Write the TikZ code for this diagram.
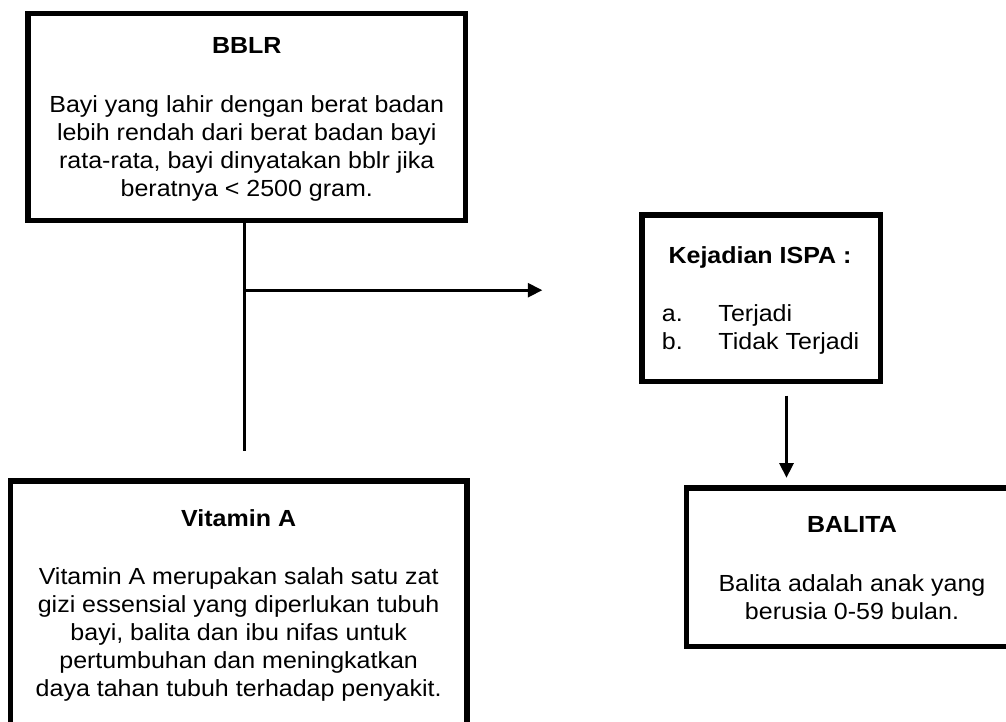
\documentclass[tikz,border=0pt]{standalone}
\usepackage{fontspec}
\setmainfont{Liberation Sans}[FakeStretch=1.073]
\usetikzlibrary{arrows.meta}
\tikzset{
  box/.style={draw, line width=5.5pt, fill=white, inner sep=0pt, rectangle},
  txt/.style={font=\fontsize{23.3}{28}\selectfont, inner sep=0pt, align=center, anchor=base},
  ttl/.style={txt, font=\fontsize{23.3}{28}\selectfont\bfseries},
  conn/.style={line width=2.7pt},
  arr/.style={conn, -{Triangle[length=14.5pt,width=14pt]}},
}
\begin{document}
\begin{tikzpicture}[x=1pt,y=-1pt]
\useasboundingbox (0,0) rectangle (1006,721);
\clip (0,0) rectangle (1006,721);
\fill[white] (0,0) rectangle (1006,721);

% BBLR
\node[box, minimum width=437.5pt, minimum height=206.8pt] (bblr) at (246.75,117.1) {};
\node[ttl] (bblrT) at (246.75,53.3) {BBLR};
\node[txt] (bblrB) at (246.75,196.2) {Bayi yang lahir dengan berat badan\\lebih rendah dari berat badan bayi\\rata-rata, bayi dinyatakan bblr jika\\beratnya < 2500 gram.};

% Kejadian ISPA
\node[box, minimum width=238.7pt, minimum height=166.5pt] (kej) at (761.15,298.25) {};
\node[ttl] (kejT) at (760,263.3) {Kejadian ISPA :};
\node[txt, align=left, anchor=base west] (kejB) at (661.7,349.5) {\makebox[56.6pt][l]{a.}Terjadi\\\makebox[56.6pt][l]{b.}Tidak Terjadi};

% Vitamin A
\node[box, minimum width=456.7pt, minimum height=245pt] (vit) at (238.65,603.5) {};
\node[ttl] (vitT) at (238.65,526) {Vitamin A};
\node[txt] (vitB) at (238.65,696.3) {Vitamin A merupakan salah satu zat\\gizi essensial yang diperlukan tubuh\\bayi, balita dan ibu nifas untuk\\pertumbuhan dan meningkatkan\\daya tahan tubuh terhadap penyakit.};

% BALITA
\node[box, minimum width=331pt, minimum height=158.5pt] (bal) at (852,567.25) {};
\node[ttl] (balT) at (852,532.7) {BALITA};
\node[txt] (balB) at (852,619.2) {Balita adalah anak yang\\berusia 0-59 bulan.};

% connectors
\coordinate (j) at (244.3,290.2);
\coordinate (vEnd) at (244.3,451);
\coordinate (hEnd) at (542.3,290.2);
\draw[conn] (bblr.south -| j) -- (vEnd);
\draw[arr] (j) -- (hEnd);
\coordinate (dStart) at (786.5,395.7);
\coordinate (dEnd) at (786.5,477.7);
\draw[arr] (dStart) -- (dEnd);
\end{tikzpicture}
\end{document}
